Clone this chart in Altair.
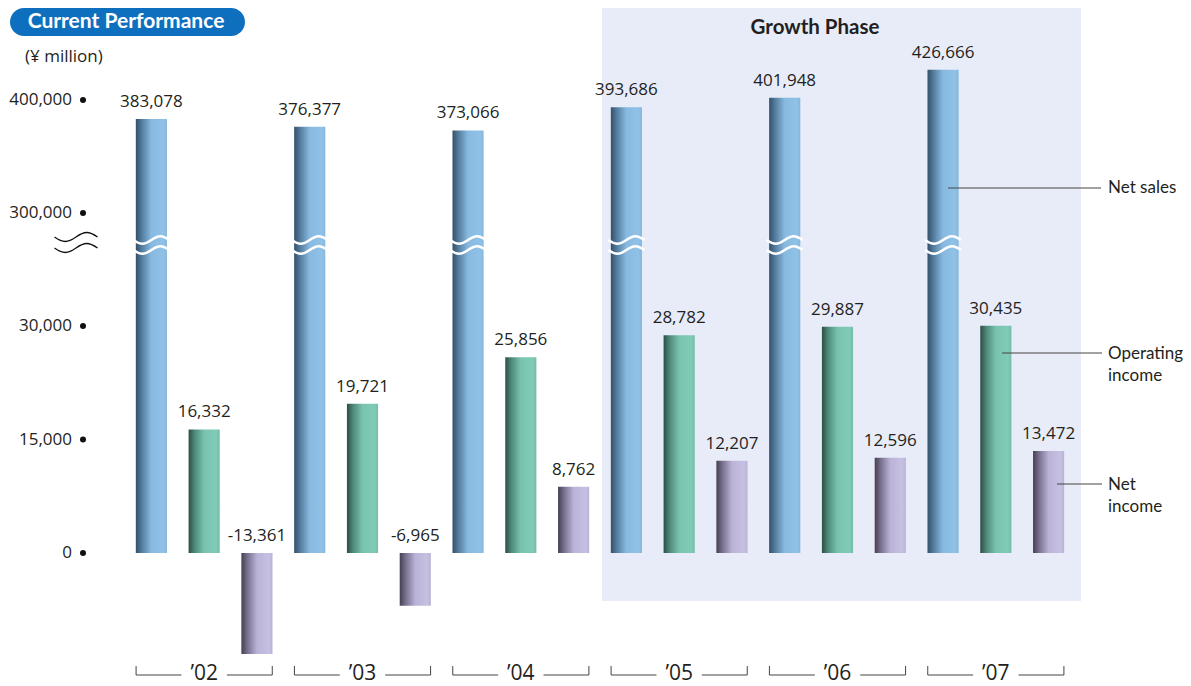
import altair as alt
import pandas as pd

# ---------------- data ----------------
years = ["’02", "’03", "’04", "’05", "’06", "’07"]
net_sales = [383078, 376377, 373066, 393686, 401948, 426666]
operating_income = [16332, 19721, 25856, 28782, 29887, 30435]
net_income = [-13361, -6965, 8762, 12207, 12596, 13472]
series_names = ["Net sales", "Operating income", "Net income"]
tick_values = [0, 15000, 30000, 300000, 400000]

rows = []
for yi, yname in enumerate(years):
    for si, vals in enumerate([net_sales, operating_income, net_income]):
        rows.append({"year": yname, "yi": yi, "si": si,
                     "series": series_names[si], "value": vals[yi]})
df = pd.DataFrame(rows)
yr = pd.DataFrame({"year": years, "yi": list(range(len(years)))})
ticks = pd.DataFrame({"v": tick_values})

# ---------------- style ----------------
NUMFONT = "Open Sans"
WORDFONT = "Lato"
TXT = "#231f20"
LINE = "#444444"

xs = alt.Scale(domain=[-0.5, 17.5], range=[117, 1067], nice=False, zero=False)
# broken (piecewise) value axis
ys = alt.Scale(domain=[0, 30000, 300000, 400000], range=[545, 318, 205, 92],
               nice=False, zero=False)

base = alt.Chart(df).transform_calculate(
    slot="datum.yi*3+datum.si",
    x0="datum.yi*3+datum.si-0.295",
    x1="datum.yi*3+datum.si+0.295",
    base="0",
    top="max(datum.value, 0)",
    label="(datum.value < 0 ? '-' : '') + format(abs(datum.value), ',')",
)


def grad(stops):
    return alt.Gradient(gradient="linear", x1=0, x2=1, y1=0, y2=0,
                        stops=[alt.GradientStop(offset=o, color=c) for o, c in stops])


gradients = [
    grad([(0, "#34506a"), (0.2, "#557e9f"), (0.5, "#88bae1"), (0.88, "#90c2e8"), (1, "#86b6db")]),
    grad([(0, "#2c4d45"), (0.2, "#4f8a7b"), (0.5, "#79c3ae"), (0.88, "#80cbb7"), (1, "#76bca8")]),
    grad([(0, "#463f51"), (0.2, "#7a7190"), (0.5, "#bab3d7"), (0.88, "#c6c0e2"), (1, "#b9b2d4")]),
]

layers = []

# Growth phase background
layers.append(
    alt.Chart(pd.DataFrame({"t": ["Growth Phase"]})).mark_rect(color="#e8ecf8").encode(
        x=alt.value(594), x2=alt.value(1073), y=alt.value(0), y2=alt.value(593))
)

# bars
for si in range(3):
    layers.append(
        base.transform_filter(f"datum.si == {si}").mark_bar(fill=gradients[si]).encode(
            x=alt.X("x0:Q", scale=xs, axis=None),
            x2="x1:Q",
            y=alt.Y("value:Q", scale=ys, axis=None),
            y2="base:Q",
        )
    )

# y-axis tick labels and bullets (through the y scale)
tk = alt.Chart(ticks).transform_calculate(lab="format(datum.v, ',')")
layers.append(tk.mark_text(font=NUMFONT, fontSize=17, color=TXT, align="right",
                           baseline="middle").encode(
    x=alt.value(64), y=alt.Y("v:Q", scale=ys, axis=None), text="lab:N"))
layers.append(tk.mark_circle(size=36, color="#111111", opacity=1).encode(
    x=alt.value(75), y=alt.Y("v:Q", scale=ys, axis=None)))

# break waves
wave = "M -1 0 C -0.6 0.28 -0.4 0.28 0 0 C 0.4 -0.28 0.6 -0.28 1 0"
for yv in [232, 242]:
    layers.append(
        base.transform_filter("datum.si == 0").mark_point(
            shape=wave, size=1296, filled=False, color="white", strokeWidth=2.6, opacity=1
        ).encode(x=alt.X("slot:Q", scale=xs, axis=None), y=alt.value(yv))
    )
for yv in [229, 240]:
    layers.append(
        alt.Chart(pd.DataFrame({"t": [0]})).mark_point(
            shape=wave, size=1850, filled=False, color="#111111", strokeWidth=1.3, opacity=1
        ).encode(x=alt.value(68), y=alt.value(yv))
    )

# value labels
layers.append(
    base.mark_text(font=NUMFONT, fontSize=17, color=TXT, dy=-12, baseline="alphabetic").encode(
        x=alt.X("slot:Q", scale=xs, axis=None),
        y=alt.Y("top:Q", scale=ys, axis=None),
        text="label:N",
    )
)

# year brackets
br = alt.Chart(yr).transform_calculate(
    a="datum.yi*3-0.29", b="datum.yi*3+0.57", c="datum.yi*3+1.43",
    d="datum.yi*3+2.29", m="datum.yi*3+1")
for p, q in [("a", "b"), ("c", "d")]:
    layers.append(br.mark_rule(color=LINE, strokeWidth=1).encode(
        x=alt.X(f"{p}:Q", scale=xs, axis=None), x2=f"{q}:Q", y=alt.value(667)))
for p in ["a", "d"]:
    layers.append(br.mark_rule(color=LINE, strokeWidth=1).encode(
        x=alt.X(f"{p}:Q", scale=xs, axis=None), y=alt.value(658), y2=alt.value(667)))
layers.append(br.mark_text(font=NUMFONT, fontSize=21, color=TXT, baseline="middle").encode(
    x=alt.X("m:Q", scale=xs, axis=None), y=alt.value(666), text="year:N"))


def label(text, x, y, size=17, weight="normal", align="left", color=TXT, font=WORDFONT):
    return alt.Chart(pd.DataFrame({"t": [text]})).mark_text(
        font=font, fontSize=size, fontWeight=weight, align=align, baseline="middle",
        color=color).encode(x=alt.value(x), y=alt.value(y), text="t:N")


def lead(x1, x2, y):
    return alt.Chart(pd.DataFrame({"t": [0]})).mark_rule(color=LINE, strokeWidth=1).encode(
        x=alt.value(x1), x2=alt.value(x2), y=alt.value(y))


# series annotations
layers += [
    lead(940, 1093, 180), label("Net sales", 1100, 180),
    lead(994, 1094, 345), label("Operating", 1100, 346), label("income", 1100, 368),
    lead(1049, 1094, 476), label("Net", 1100, 477), label("income", 1100, 499),
]

# titles
layers.append(
    alt.Chart(pd.DataFrame({"t": [0]})).mark_rect(color="#0f6fbf", cornerRadius=14).encode(
        x=alt.value(2), x2=alt.value(237), y=alt.value(0), y2=alt.value(28))
)
layers.append(label("Current Performance", 118, 14, size=21, weight="bold", align="center", color="white"))
layers.append(label("(¥ million)", 17, 49, size=17, font=NUMFONT))
layers.append(label("Growth Phase", 807, 20, size=20.5, weight="bold", align="center"))

chart = alt.layer(*layers).properties(
    width=1175, height=678,
    autosize=alt.AutoSizeParams(type="none"),
    padding=0,
    background="white",
).configure_view(stroke=None)

chart.save("out.html", embed_options={"renderer": "svg", "actions": False})
